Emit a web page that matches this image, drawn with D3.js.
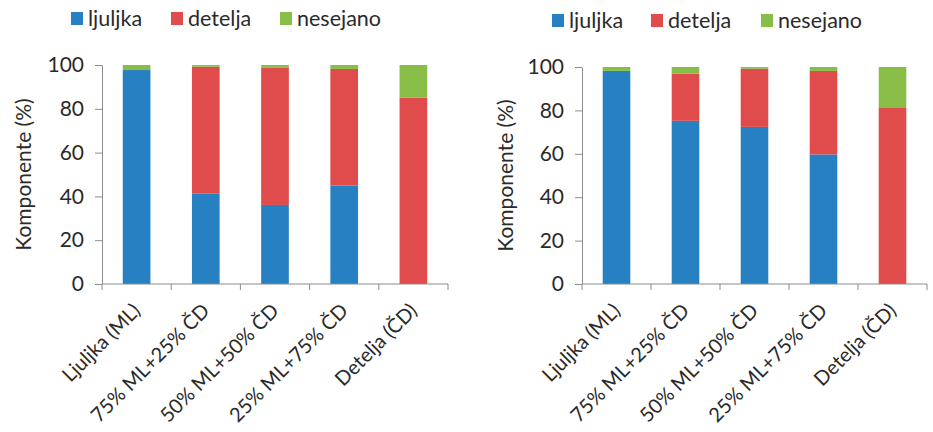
<!DOCTYPE html>
<html>
<head>
<meta charset="utf-8">
<script src="https://cdn.jsdelivr.net/npm/d3@7/dist/d3.min.js"></script>
<style>
  body { margin: 0; background: #fff; }
  svg text { font-family: Lato, "Open Sans", sans-serif; fill: #2a2a2a; }
</style>
</head>
<body>
<div id="screen"></div>
<script>
var categories = ['Ljuljka (ML)', '75% ML+25% ČD', '50% ML+50% ČD', '25% ML+75% ČD', 'Detelja (ČD)'],
    seriesNames = ['ljuljka', 'detelja', 'nesejano'],
    colors = ['#2680c2', '#e04c4c', '#88bd48'],
    yTicks = [0, 20, 40, 60, 80, 100];

// left chart
var ljuljkaA  = [97.7, 41.4, 36.1, 44.9, 0],
    deteljaA  = [0, 57.8, 62.8, 53.3, 85.1],
    nesejanoA = [2.3, 0.8, 1.1, 1.8, 14.9];

// right chart
var ljuljkaB  = [98.2, 75.2, 72.4, 59.7, 0],
    deteljaB  = [0, 21.7, 26.8, 38.5, 81.1],
    nesejanoB = [1.8, 3.1, 0.8, 1.8, 18.9];

var svg = d3.select('#screen')
            .append('svg')
            .attr('width', 933)
            .attr('height', 432);

var chart = function(opts) {
  var rows = categories.map(function(c, i) {
    return { cat: c, ljuljka: opts.data[0][i], detelja: opts.data[1][i], nesejano: opts.data[2][i] };
  });

  var x = d3.scaleBand()
            .domain(categories)
            .range([opts.left, opts.right])
            .paddingInner(0.6)
            .paddingOuter(0.3);
  var y = d3.scaleLinear()
            .domain([0, 100])
            .range([opts.bottom, opts.top]);

  var stack = d3.stack().keys(seriesNames)(rows);
  var g = svg.append('g');

  g.selectAll('.layer')
    .data(stack)
    .enter()
      .append('g')
      .attr('fill', function(d, i) { return colors[i]; })
      .selectAll('rect')
      .data(function(d) { return d; })
      .enter()
        .append('rect')
        .attr('x', function(d) { return x(d.data.cat); })
        .attr('width', x.bandwidth())
        .attr('y', function(d) { return y(d[1]); })
        .attr('height', function(d) { return y(d[0]) - y(d[1]); });

  // y axis
  var ya = g.append('g')
            .attr('transform', 'translate(' + opts.left + ',0)')
            .call(d3.axisLeft(y).tickValues(yTicks).tickSize(7).tickSizeOuter(0).tickPadding(11));
  ya.selectAll('line, path').attr('stroke', '#8c8c8c');
  ya.selectAll('text').style('font-size', '21px').attr('fill', '#2a2a2a');

  // x axis: ticks between categories
  var gap = (x.step() - x.bandwidth()) / 2,
      bounds = categories.map(function(c) { return x(c) - gap; }).concat([opts.right]);
  g.append('line')
    .attr('x1', opts.left).attr('x2', opts.right)
    .attr('y1', opts.bottom).attr('y2', opts.bottom)
    .attr('stroke', '#8c8c8c');
  g.selectAll('.xtick')
    .data(bounds)
    .enter()
      .append('line')
      .attr('x1', function(d) { return d; }).attr('x2', function(d) { return d; })
      .attr('y1', opts.bottom).attr('y2', opts.bottom + 6)
      .attr('stroke', '#8c8c8c');
  g.selectAll('.xlabel')
    .data(categories)
    .enter()
      .append('text')
      .attr('text-anchor', 'end')
      .style('font-size', '20px')
      .attr('transform', function(d) {
        return 'translate(' + (x(d) + x.bandwidth() / 2 + 5) + ',' + (opts.bottom + 28) + ') rotate(-45)';
      })
      .text(function(d) { return d; });

  // y label
  g.append('text')
    .attr('text-anchor', 'middle')
    .style('font-size', '21px')
    .attr('transform', 'translate(' + opts.labelX + ',' + ((opts.top + opts.bottom) / 2) + ') rotate(-90)')
    .text('Komponente (%)');

  // legend
  var lg = g.selectAll('.legend')
            .data(seriesNames)
            .enter()
              .append('g')
              .attr('transform', function(d, i) { return 'translate(' + opts.legendX[i] + ',' + opts.legendY + ')'; });
  lg.append('rect')
    .attr('width', 12).attr('height', 13)
    .attr('fill', function(d, i) { return colors[i]; });
  lg.append('text')
    .attr('x', 17).attr('y', 14)
    .style('font-size', '21.5px')
    .text(function(d) { return d; });
};

chart({ data: [ljuljkaA, deteljaA, nesejanoA], left: 102, right: 448, top: 65, bottom: 284,
        labelX: 31, legendX: [71, 171, 280], legendY: 12 });
chart({ data: [ljuljkaB, deteljaB, nesejanoB], left: 582, right: 927, top: 67, bottom: 284,
        labelX: 513, legendX: [552, 651, 761], legendY: 14 });
</script>
</body>
</html>
